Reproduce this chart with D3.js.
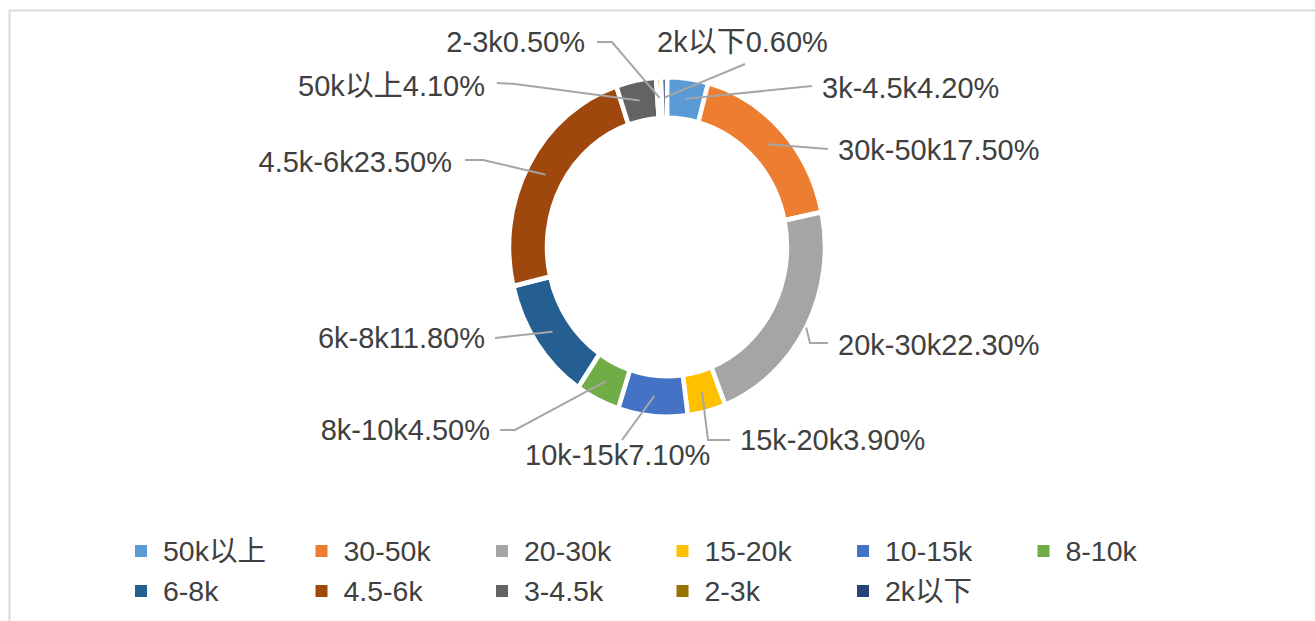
<!DOCTYPE html>
<html>
<head>
<meta charset="utf-8">
<script src="https://cdn.jsdelivr.net/npm/d3@7"></script>
<style>
  body { margin: 0; background: #fff; }
  svg text { font-family: "Liberation Sans", "Noto Sans CJK SC", sans-serif; fill: #404040; }
</style>
</head>
<body>
<div id="chart"></div>
<script>
// slice values, clockwise from 12 o'clock (percent)
var values = [4.2, 17.5, 22.3, 3.9, 7.1, 4.5, 11.8, 23.5, 4.1, 0.5, 0.6];
// category text shown on each data label
var labelNames = ["3k-4.5k", "30k-50k", "20k-30k", "15k-20k", "10k-15k", "8k-10k",
                  "6k-8k", "4.5k-6k", "50k以上", "2-3k", "2k以下"];
// legend entries (same order as the slices)
var legendNames = ["50k以上", "30-50k", "20-30k", "15-20k", "10-15k", "8-10k",
                   "6-8k", "4.5-6k", "3-4.5k", "2-3k", "2k以下"];
var colors = ["#5B9BD5", "#ED7D31", "#A5A5A5", "#FFC000", "#4472C4", "#70AD47",
              "#255E91", "#9E480E", "#636363", "#997300", "#264478"];

// label layout: text anchor point, anchor side, elbow points before the slice
var labelLayout = [
    {x: 822, y: 98,  anchor: "start", pts: [[812, 86]]},
    {x: 838, y: 160, anchor: "start", pts: [[828, 149]]},
    {x: 838, y: 355, anchor: "start", pts: [[828, 343], [810, 343]], r: 158},
    {x: 740, y: 450, anchor: "start", pts: [[730, 440], [708, 440]]},
    {x: 525, y: 465, anchor: "start", pts: [[622, 440]]},
    {x: 490, y: 440, anchor: "end",   pts: [[500, 430], [515, 430]]},
    {x: 485, y: 348, anchor: "end",   pts: [[495, 338]]},
    {x: 452, y: 172, anchor: "end",   pts: [[465, 160], [483, 160]]},
    {x: 485, y: 96,  anchor: "end",   pts: [[497, 83], [515, 84]]},
    {x: 585, y: 52,  anchor: "end",   pts: [[597, 42], [612, 42]]},
    {x: 657, y: 52,  anchor: "start", pts: [[745, 64]]}
];

var W = 1315, H = 621;
var cx = 667, cy = 247, stretch = 1.075;
var outerR = 158, innerR = 120;

var svg = d3.select("#chart").append("svg")
    .attr("width", W).attr("height", H);

// chart area border
svg.append("rect")
    .attr("x", 9.5).attr("y", 10.5)
    .attr("width", W + 20).attr("height", H + 20)
    .attr("fill", "#fff")
    .attr("stroke", "#D9D9D9").attr("stroke-width", 2);

var pie = d3.pie().sort(null).value(d => d);
var arcs = pie(values);

var arc = d3.arc().innerRadius(innerR).outerRadius(outerR);
var midArc = d3.arc().innerRadius(139).outerRadius(139);

var ring = svg.append("g")
    .attr("transform", `translate(${cx},${cy}) scale(1,${stretch})`);

ring.selectAll("path")
    .data(arcs)
    .join("path")
    .attr("d", arc)
    .attr("fill", (d, i) => colors[i])
    .attr("stroke", "#fff")
    .attr("stroke-width", 4.5);

// where a leader line touches the slice, in page coords
function touchPoint(d, i){
    var r = labelLayout[i].r;
    var c;
    if(r){
        var a = (d.startAngle + d.endAngle) / 2;
        c = [r * Math.sin(a), -r * Math.cos(a)];
    } else {
        c = midArc.centroid(d);
    }
    return [cx + c[0], cy + c[1] * stretch];
}

var line = d3.line();

svg.append("g")
    .selectAll("path")
    .data(arcs)
    .join("path")
    .attr("d", (d, i) => line(labelLayout[i].pts.concat([touchPoint(d, i)])))
    .attr("fill", "none")
    .attr("stroke", "#A6A6A6")
    .attr("stroke-width", 2);

svg.append("g")
    .selectAll("text")
    .data(arcs)
    .join("text")
    .attr("x", (d, i) => labelLayout[i].x)
    .attr("y", (d, i) => labelLayout[i].y)
    .attr("text-anchor", (d, i) => labelLayout[i].anchor)
    .style("font-size", "29px")
    .text((d, i) => labelNames[i] + d3.format(".2f")(d.data) + "%");

// legend, 6 per row
var legend = svg.append("g")
    .selectAll("g")
    .data(legendNames)
    .join("g")
    .attr("transform", (d, i) => `translate(${135 + (i % 6) * 180.5},${551 + Math.floor(i / 6) * 40})`);

legend.append("rect")
    .attr("x", 0).attr("y", -6)
    .attr("width", 12).attr("height", 12)
    .attr("fill", (d, i) => colors[i]);

legend.append("text")
    .attr("x", 28).attr("y", 10)
    .style("font-size", "28.5px")
    .text(d => d);
</script>
</body>
</html>
